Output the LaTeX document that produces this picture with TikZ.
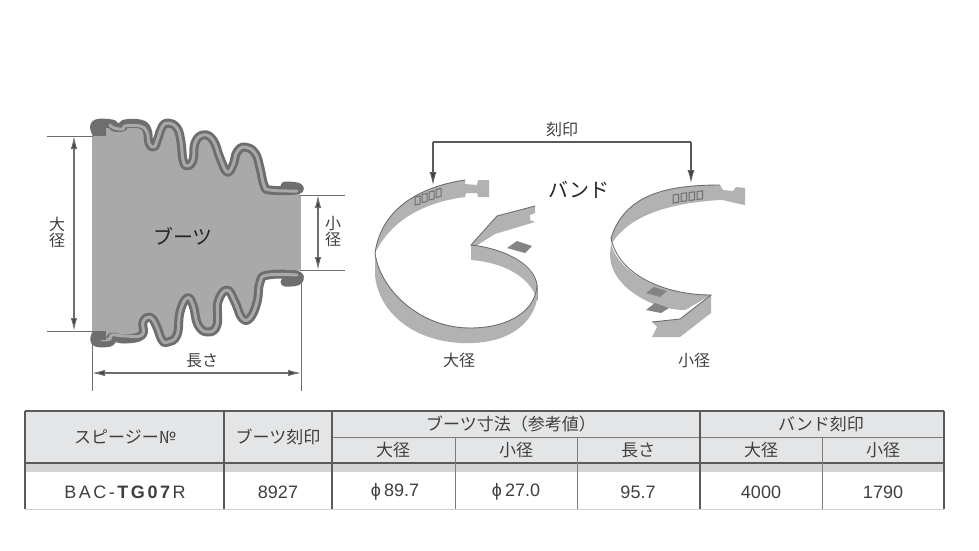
\documentclass[tikz,border=0pt]{standalone}
\usepackage{fontspec}
\setmainfont{Liberation Sans}
\newfontfamily\jp{Noto Sans CJK JP}
\usetikzlibrary{arrows.meta}
\definecolor{ink}{HTML}{3F3F3F}
\definecolor{wall}{HTML}{6E6E6E}
\definecolor{body}{HTML}{A9A9A9}
\definecolor{strap}{HTML}{B2B2B2}
\definecolor{head}{HTML}{E4E5E6}
\definecolor{rule}{HTML}{5A5A5A}
\newcommand\bootTop{plot[smooth,tension=.75] coordinates {(96,132)(96,124)(112,124)(114,127)(123,127)(125,124)(140,124)(147,130)(149,143)(154,147)(158,138)(162,127)(168,123)(177,128)(181,142)(183,160)(187,166)(193,160)(195,143)(203,135)(213,140)(220,158)(227,172)(233,165)(237,152)(245,147)(255,153)(260,168)(264,185)(270,190)(296,190)(297,187)(285,186)}}
\newcommand\bootBot{plot[smooth,tension=.75] coordinates {(285,282)(297,281)(296,275)(268,275)(260,282)(257,302)(250,318)(242,318)(235,302)(227,290)(218,302)(217,325)(208,332)(198,325)(193,305)(187,298)(180,312)(177,335)(168,342)(162,340)(156,325)(150,317)(143,322)(142,335)(125,339)(112,337)(110,342)(96,342)(96,335)}}
\tikzset{
  x=1pt,y=-1pt,
  dim/.style={draw=wall,line width=1.1pt,{Latex[length=13pt,width=6.5pt,fill=ink]}-{Latex[length=13pt,width=6.5pt,fill=ink]}},
  ext/.style={draw=wall,line width=.8pt},
  lead/.style={draw=rule,line width=1.1pt},
  leadarrow/.style={draw=rule,line width=1.1pt,-{Latex[length=13pt,width=7pt,fill=ink]}},
  lab/.style={font=\jp\fontsize{16}{16}\selectfont,text=ink,inner sep=0pt},
  tlab/.style={font=\jp\fontsize{17}{17}\selectfont,text=ink,inner sep=0pt},
  num/.style={font=\fontsize{18}{18}\selectfont,text=ink,inner sep=0pt},
  big/.style={font=\jp\fontsize{20}{20}\selectfont,text=black!85,inner sep=0pt},
  strapface/.style={fill=strap,draw=none},
  strapedge/.style={draw=wall,line width=.9pt},
  stampbox/.style={draw=wall,line width=1pt,fill=strap},
  darkpatch/.style={fill=wall!85,draw=none},
  heavy/.style={draw=rule,line width=1.3pt},
  thin/.style={draw=rule!80,line width=.8pt},
}
\begin{document}
\begin{tikzpicture}
\useasboundingbox[fill=white] (0,0) rectangle (979,550);
% --- boot
\fill[body] (96,133) -- plot[smooth,tension=.75] coordinates {(96,124)(112,124)(114,127)(123,127)(125,124)(140,124)(147,130)(149,143)(154,147)(158,138)(162,127)(168,123)(177,128)(181,142)(183,160)(187,166)(193,160)(195,143)(203,135)(213,140)(220,158)(227,172)(233,165)(237,152)(245,147)(255,153)(260,168)(264,185)(270,190)(296,190)} -- (300,195) -- (300,270) -- plot[smooth,tension=.75] coordinates {(296,275)(268,275)(260,282)(257,302)(250,318)(242,318)(235,302)(227,290)(218,302)(217,325)(208,332)(198,325)(193,305)(187,298)(180,312)(177,335)(168,342)(162,340)(156,325)(150,317)(143,322)(142,335)(125,339)(112,337)(110,342)(96,342)} -- cycle;
\fill[body] (92,133) rectangle (110,335);
\draw[wall,line width=9pt,line cap=round,line join=round] \bootTop;
\draw[wall,line width=9pt,line cap=round,line join=round] \bootBot;
\draw[body,line width=3pt,line cap=round,line join=round] plot[smooth,tension=.75] coordinates {(110,125)(114,128)(123,129)(125,126)(140,126)(147,132)(149,143)(154,147)(158,138)(162,127)(168,123)(177,128)(181,142)(183,160)(187,166)(193,160)(195,143)(203,135)(213,140)(220,158)(227,172)(233,165)(237,152)(245,147)(255,153)(260,168)(264,185)(270,190)(297,191)};
\draw[body,line width=3pt,line cap=round,line join=round] plot[smooth,tension=.75] coordinates {(297,275)(268,275)(260,282)(257,302)(250,318)(242,318)(235,302)(227,290)(218,302)(217,325)(208,332)(198,325)(193,305)(187,298)(180,312)(177,335)(168,342)(162,340)(156,325)(150,317)(143,322)(142,335)(125,336)(112,335)(110,339)(102,340)};
\fill[wall] (92.5,122) rectangle (106,136);
\fill[wall] (92.5,331) rectangle (106,340);
\fill[body] (92,136) rectangle (110,331);
\fill[body] (285,195) rectangle (301,270);
% dimensions
\coordinate (dLa) at (74,136); \coordinate (dLb) at (74,331);
\coordinate (dSa) at (318,195); \coordinate (dSb) at (318,270);
\coordinate (dWa) at (92,373); \coordinate (dWb) at (301,373);
\draw[ext] (47,136) -- (93,136);
\draw[ext] (47,331) -- (93,331);
\draw[ext] (300,195) -- (345,195);
\draw[ext] (300,270) -- (345,270);
\draw[ext] (92,342) -- (92,391);
\draw[ext] (301,282) -- (301,391);
\draw[dim] (dLa) -- (dLb);
\draw[dim] (dSa) -- (dSb);
\draw[dim] (dWa) -- (dWb);
\node[lab,align=center] (nLarge) at (57,232) {大\\径};
\node[lab,align=center] (nSmall) at (333,232) {小\\径};
\node[lab] (nLen) at (202,361) {長さ};
\node[big] (nBoot) at (183,236) {ブーツ};
% --- large band
\path[strapface] (375,253) .. controls (382,205) and (425,186) .. (465,180) -- (465,184) -- (477,185) -- (478,180) -- (489,180) -- (489,197) -- (478,197) -- (477,193) -- (466,193) -- (465,197) .. controls (435,201) and (395,213) .. (375,253) -- cycle;
\path[strapface] (375,253) .. controls (380,290) and (420,328) .. (470,328) .. controls (510,328) and (536,310) .. (537,285) -- (537,300) .. controls (530,330) and (500,345) .. (460,343) .. controls (410,340) and (378,310) .. (375,275) -- cycle;
\path[strapface] (471,245) -- (497,216) -- (535,206) -- (535,213) -- (530,215) -- (530,220) -- (535,222) -- (495,234) -- (476,246) -- cycle;
\fill[strap] (471,245) .. controls (500,248) and (532,262) .. (537,285) -- (537,300) .. controls (530,275) and (500,262) .. (471,260) -- cycle;
\draw[strapedge] (465,180) .. controls (425,186) and (382,205) .. (375,253) .. controls (380,290) and (420,328) .. (470,328) .. controls (510,328) and (536,310) .. (537,285) .. controls (534,262) and (500,248) .. (471,245) -- (497,216) -- (535,206);
\draw[strapedge,wall!70] (537,285) -- (537,300);
\path[darkpatch] (507,248) -- (517,241) -- (532,246) -- (525,253) -- cycle;
\foreach \xa/\ya in {415/197,422/194.5,429/192,436/189.5}{
  \draw[stampbox] (\xa,\ya) -- (\xa+5,\ya-1) -- (\xa+5,\ya+7) -- (\xa,\ya+8) -- cycle;}
% --- small band
\path[strapface] (611,238) .. controls (625,195) and (665,185) .. (720,185) -- (723,190) -- (733,191) -- (736,187) -- (745,188) -- (745,205) -- (735,203) -- (723,200) -- (720,200) .. controls (670,203) and (630,215) .. (612,243) -- cycle;
\path[strapface] (611,243) .. controls (618,275) and (665,295) .. (711,295) -- (685,310) .. controls (650,310) and (610,285) .. (610,255) -- cycle;
\path[strapface] (711,295) -- (711,313) -- (680,337) -- (652,337) -- (657,327) -- (652,322) -- (680,319) -- cycle;
\draw[strapedge] (720,185) .. controls (665,185) and (625,195) .. (611,238) .. controls (618,275) and (665,295) .. (711,295) -- (680,319) -- (652,322);
\path[darkpatch] (646,293) -- (654,287) -- (667,291) -- (660,297) -- cycle;
\path[darkpatch] (646,310) -- (655,303) -- (669,308) -- (661,313) -- cycle;
\foreach \xa/\ya in {673/195,681/193.5,689/192.5,697/191.5}{
  \draw[stampbox] (\xa,\ya) -- (\xa+5.5,\ya-.7) -- (\xa+5.5,\ya+7.3) -- (\xa,\ya+8) -- cycle;}
% band labels and leader
\node[lab] (nStamp) at (562,129) {刻印};
\node[big] (nBand) at (579,190) {バンド};
\node[lab] (nBL) at (459,360) {大径};
\node[lab] (nBS) at (694,360) {小径};
\coordinate (tL) at (433,185); \coordinate (tR) at (691,183);
\coordinate (cL) at (433,142); \coordinate (cR) at (691,142);
\draw[lead] (cL) -- (cR);
\draw[leadarrow] (cL) -- (tL);
\draw[leadarrow] (cR) -- (tR);
% --- table
\fill[head] (25,411) rectangle (944,463);
\fill[black!17] (25,463) rectangle (944,472);
\draw[black!18,line width=.8pt] (25,509) -- (944,509);
\draw[heavy] (25,411) -- (944,411);
\draw[heavy] (25,463) -- (944,463);
\draw[thin] (332,437) -- (944,437);
\draw[heavy] (25,411) -- (25,509);
\draw[heavy] (944,411) -- (944,509);
\draw[heavy] (224,411) -- (224,509);
\draw[heavy] (332,411) -- (332,509);
\draw[heavy] (700,411) -- (700,509);
\draw[thin] (455,437) -- (455,509);
\draw[thin] (577,437) -- (577,509);
\draw[thin] (822,437) -- (822,509);
\node[tlab] (h1) at (125,437) {スピージー№};
\node[tlab] (h2) at (278,437) {ブーツ刻印};
\node[tlab] (h3) at (511,424) {ブーツ寸法（参考値）};
\node[tlab] (h4) at (821,424) {バンド刻印};
\node[tlab] (h5) at (393,450) {大径};
\node[tlab] (h6) at (516,450) {小径};
\node[tlab] (h7) at (638,450) {長さ};
\node[tlab] (h8) at (761,450) {大径};
\node[tlab] (h9) at (883,450) {小径};
\node[num] (c1) at (125,492) {\addfontfeatures{LetterSpace=14}BAC-\textbf{TG07}R};
\node[num] (c2) at (278,492) {8927};
\node[num] (c3) at (395,492) {ϕ\hspace{3pt}89.7};
\node[num] (c4) at (516,492) {ϕ\hspace{3pt}27.0};
\node[num] (c5) at (638,492) {95.7};
\node[num] (c6) at (761,492) {4000};
\node[num] (c7) at (883,492) {1790};
\end{tikzpicture}
\end{document}
